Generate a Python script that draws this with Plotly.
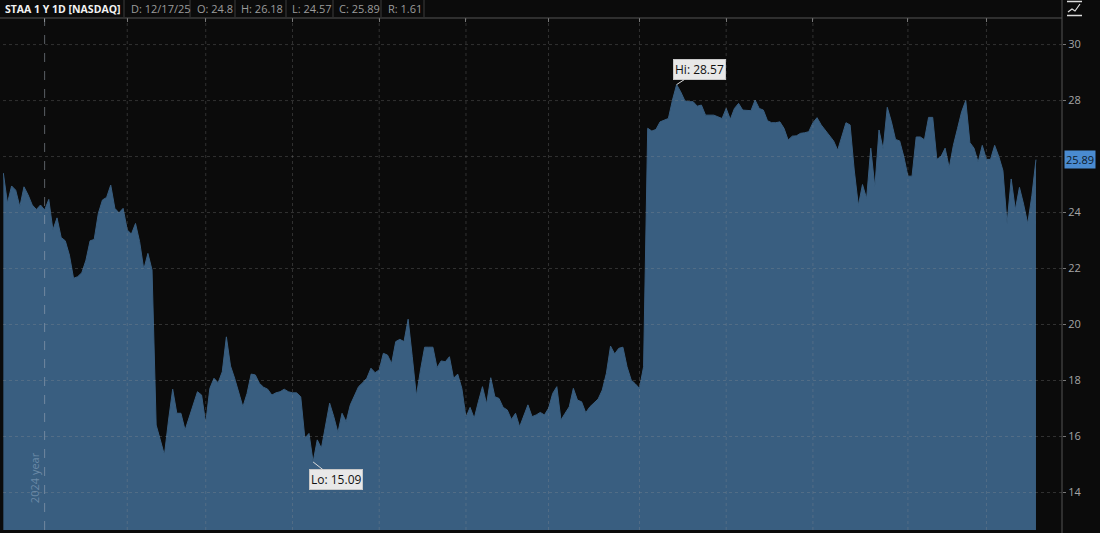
import plotly.graph_objects as go

BG = "#0b0b0b"
FILL = "#395e80"
GRID = "rgba(150,150,150,0.28)"
TXT = "#a6a6a6"
FONT = "Open Sans, DejaVu Sans, sans-serif"

# daily closes, 12/17/24 .. 12/17/25 (trading-day index)
close = [
    # Dec 24 - Jan 25
    25.41, 24.33, 24.95, 24.80, 24.21, 24.92, 24.63, 24.27, 24.11, 24.27,
    24.09, 24.47, 23.38, 23.81, 23.11, 22.99, 22.48, 21.65, 21.71, 21.85,
    22.30, 22.99, 23.04, 23.97, 24.45, 24.54, 24.98, 24.15, 23.99, 24.15,
    # Feb - Mar
    23.38, 23.23, 23.61, 22.96, 21.97, 22.54, 21.95, 16.41, 15.88, 15.34,
    16.59, 17.69, 16.83, 16.83, 16.23, 16.71, 17.13, 17.60, 17.48, 16.47,
    17.72, 18.08, 17.92, 18.31, 19.56, 18.52, 18.08, 17.54, 17.06, 17.54,
    18.23, 18.20,
    # Apr
    17.90, 17.76, 17.69, 17.48, 17.56, 17.60, 17.69, 17.60, 17.56, 17.56,
    17.42, 15.94, 16.11, 15.09, 15.88, 15.58, 16.41, 17.19, 16.71, 16.14,
    16.83, 16.53, 17.13, 17.48, 17.78, 17.92, 18.08, 18.44, 18.28, 18.38,
    18.97,
    # May - Jun
    18.91, 18.61, 19.39, 19.47, 19.39, 20.19, 18.85, 17.45, 18.38, 19.19,
    19.19, 19.19, 18.46, 18.70, 18.67, 18.85, 18.08, 18.23, 17.72, 16.69,
    17.04, 16.65, 17.24, 17.78, 17.16, 18.10, 17.42, 17.36, 17.04, 16.95,
    16.61, 16.83,
    # Jul
    16.35, 16.71, 17.13, 16.71, 16.77, 16.86, 16.77, 17.01, 17.54, 17.78,
    16.59, 16.83, 17.06, 17.72, 17.30, 17.24, 16.85, 17.06, 17.21, 17.34,
    17.66, 18.26, 19.23, 18.95, 19.15, 19.19, 18.49, 18.02, 17.88, 17.72,
    18.49,
    # Aug - Sep
    27.01, 26.91, 26.97, 27.24, 27.30, 27.36, 28.02, 28.57, 28.31, 27.99,
    27.96, 27.96, 27.80, 27.84, 27.48, 27.48, 27.48, 27.42, 27.36, 27.72,
    27.33, 27.72, 27.90, 27.66, 27.66, 27.64, 28.02, 27.72, 27.66, 27.28,
    27.21, 27.21, 27.24, 27.01, 26.59, 26.73, 26.74, 26.83, 26.85, 26.89,
    27.21, 27.39, 27.13, 26.95, 26.77, 26.56, 26.23, 26.71, 27.21, 27.13,
    # Oct - Dec
    25.52, 24.25, 25.00, 24.50, 26.30, 24.90, 26.95, 26.26, 27.76, 27.24,
    26.61, 26.56, 26.00, 25.30, 25.30, 26.70, 26.70, 26.60, 27.40, 27.40,
    25.90, 26.00, 26.30, 25.60, 26.40, 27.00, 27.60, 28.00, 26.50, 26.30,
    25.80, 26.40, 25.90, 25.90, 26.40, 26.00, 25.50, 23.60, 25.20, 24.10,
    24.90, 24.30, 23.60, 24.60, 25.89,
]
idx = list(range(len(close)))

year_start = 10                     # Jan 2 2025
month_starts = [30, 49, 70, 91, 112, 132, 154, 175, 196, 219, 238]
y_ticks = [14, 16, 18, 20, 22, 24, 26, 28, 30]
# the 26 label sits under the last-price tag
y_labels = [t for t in y_ticks if t != 26]

header_title = "STAA 1 Y 1D [NASDAQ]"
header_items = ["D: 12/17/25", "O: 24.8", "H: 26.18", "L: 24.57", "C: 25.89", "R: 1.61"]
item_x = [129, 195, 239, 290, 337, 386]
sep_x = [124, 190, 235, 286, 333, 381, 424]

L, R, T, B, W, H = 3, 38, 18, 3, 1100, 533
PW, PH = W - L - R, H - T - B


def pxx(x):
    return (x - L) / PW


def pyy(y):
    return (H - B - y) / PH


fig = go.Figure(go.Scatter(
    x=idx, y=close, mode="lines", fill="tozeroy",
    line=dict(color=FILL, width=1), fillcolor=FILL, hoverinfo="skip",
))

shapes = []
for m in month_starts:
    shapes.append(dict(type="line", xref="x", yref="paper", x0=m, x1=m, y0=0, y1=1,
                       line=dict(color=GRID, width=1, dash="dot"), layer="above"))
for t in y_ticks:
    shapes.append(dict(type="line", xref="paper", yref="y", x0=0, x1=1, y0=t, y1=t,
                       line=dict(color=GRID, width=1, dash="dot"), layer="above"))
shapes.append(dict(type="line", xref="x", yref="paper", x0=year_start, x1=year_start, y0=0, y1=1,
                   line=dict(color="rgba(170,180,190,0.5)", width=1, dash="dash"), layer="above"))
# header frame
shapes.append(dict(type="line", xref="paper", yref="paper", x0=pxx(0), x1=1, y0=1, y1=1,
                   line=dict(color="#555", width=1)))
shapes.append(dict(type="line", xref="paper", yref="paper", x0=1, x1=1, y0=pyy(H), y1=pyy(0),
                   line=dict(color="#555", width=1)))
for s in sep_x:
    shapes.append(dict(type="line", xref="paper", yref="paper", x0=pxx(s), x1=pxx(s),
                       y0=pyy(17), y1=pyy(0), line=dict(color="#3c3c3c", width=1)))
# small chart-type icon top right
for yy in (1.5, 15.5):
    shapes.append(dict(type="line", xref="paper", yref="paper", x0=pxx(1067), x1=pxx(1082),
                       y0=pyy(yy), y1=pyy(yy), line=dict(color="#ddd", width=1.5)))
shapes.append(dict(type="path", xref="paper", yref="paper",
                   path=f"M {pxx(1068)} {pyy(12)} L {pxx(1072)} {pyy(9)} L {pxx(1075)} {pyy(11)} L {pxx(1080)} {pyy(4)}",
                   line=dict(color="#ddd", width=1.2)))

ann = [
    dict(x=pxx(3), y=pyy(8.5), xref="paper", yref="paper", xanchor="left", yanchor="middle",
         text=f"<b>{header_title}</b>", showarrow=False,
         font=dict(color="#f2f2f2", size=10.5, family=FONT)),
    dict(x=year_start, y=pyy(478), xref="x", yref="paper", xanchor="right", yanchor="middle",
         xshift=-1, text="2024 year", textangle=-90, showarrow=False,
         font=dict(color="rgba(150,175,200,0.55)", size=11, family=FONT)),
    dict(x=pxx(1064), y=close[-1], xref="paper", yref="y", xanchor="left", yanchor="middle",
         text=f"{close[-1]:.2f}", showarrow=False, bgcolor="#4a8bd0", borderpad=1,
         font=dict(color="#0c1a2a", size=11, family=FONT)),
]
for it, xx in zip(header_items, item_x):
    ann.append(dict(x=pxx(xx), y=pyy(8.5), xref="paper", yref="paper", xanchor="left",
                    yanchor="middle", text=it, showarrow=False,
                    font=dict(color="#9c9c9c", size=11, family=FONT)))

hi_i = max(idx, key=lambda i: close[i])
lo_i = min(idx, key=lambda i: close[i])
for i, lab, ax, ay in [(hi_i, "Hi", 23, -15), (lo_i, "Lo", 23, 18)]:
    ann.append(dict(x=i, y=close[i], xref="x", yref="y", text=f"{lab}: {close[i]:.2f}",
                    showarrow=True, arrowhead=0, arrowwidth=1, arrowcolor="#dcdcdc",
                    ax=ax, ay=ay, bgcolor="#e8e8e8", bordercolor="#c8c8c8", borderpad=1,
                    font=dict(color="#111", size=12, family=FONT)))

fig.update_layout(
    width=W, height=H, paper_bgcolor=BG, plot_bgcolor=BG,
    margin=dict(l=L, r=R, t=T, b=B), showlegend=False,
    font=dict(family=FONT, color=TXT),
    shapes=shapes, annotations=ann,
    xaxis=dict(range=[-0.08, 256.3], side="top", tickvals=[year_start] + month_starts,
               showticklabels=False, ticks="inside", ticklen=4, tickcolor="#777",
               showgrid=False, zeroline=False, showline=False, fixedrange=True),
    yaxis=dict(range=[12.66, 30.95], side="right", tickvals=y_labels,
               ticks="outside", ticklen=3, tickcolor="#777",
               tickfont=dict(color=TXT, size=11, family=FONT),
               showgrid=False, zeroline=False, showline=False, fixedrange=True),
)

fig.write_html("out.html", config={"displayModeBar": False},
               post_script="document.body.style.margin='0';document.body.style.background='#0b0b0b';")
